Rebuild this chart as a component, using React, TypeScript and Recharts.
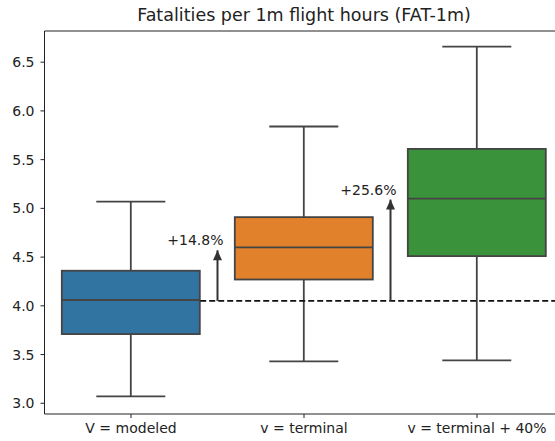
import { ComposedChart, Bar, XAxis, YAxis, ReferenceLine, ReferenceDot } from 'recharts';

// box statistics, one entry per category
const CATEGORIES = ['V = modeled', 'v = terminal', 'v = terminal + 40%'];
const WHISKER_LOW = [3.07, 3.43, 3.44];
const Q1 = [3.71, 4.27, 4.51];
const MEDIAN = [4.06, 4.6, 5.1];
const Q3 = [4.36, 4.91, 5.61];
const WHISKER_HIGH = [5.07, 5.84, 6.66];
const BOX_COLORS = ['#3274a1', '#e1812c', '#3a923a'];

const X_TICKS = [0, 1, 2];
const X_DOMAIN = [-0.5, 2.5];
const Y_TICKS = [3.0, 3.5, 4.0, 4.5, 5.0, 5.5, 6.0, 6.5];
const Y_DOMAIN = [2.89, 6.82];

// dashed reference at the modeled median, and the two increase arrows
const BASELINE = 4.05;
const BASELINE_START = 0.4;
const ARROW_POS = [0.5, 1.5];
const ARROW_TIP = [4.57, 5.09];
const ARROW_LABELS = ['+14.8%', '+25.6%'];

const LINE = '#444';
const TEXT = '#222';
const FONT = '"DejaVu Sans", sans-serif';

const data = CATEGORIES.map((name, i) => ({
  name,
  pos: i,
  lo: WHISKER_LOW[i],
  q1: Q1[i],
  med: MEDIAN[i],
  q3: Q3[i],
  hi: WHISKER_HIGH[i],
  color: BOX_COLORS[i],
}));

function BoxShape(props: any) {
  const { x, y, width, height, payload } = props;
  const top = Math.min(y, y + height);
  const h = Math.abs(height);
  const ppu = h / (payload.q3 - payload.q1);
  const toY = (v: number) => top + (payload.q3 - v) * ppu;
  const cx = x + width / 2;
  const cap = width / 4;
  const sw = 1.8;
  return (
    <g>
      <line x1={cx} x2={cx} y1={toY(payload.hi)} y2={top} stroke={LINE} strokeWidth={sw} />
      <line x1={cx} x2={cx} y1={top + h} y2={toY(payload.lo)} stroke={LINE} strokeWidth={sw} />
      <line x1={cx - cap} x2={cx + cap} y1={toY(payload.hi)} y2={toY(payload.hi)} stroke={LINE} strokeWidth={sw} />
      <line x1={cx - cap} x2={cx + cap} y1={toY(payload.lo)} y2={toY(payload.lo)} stroke={LINE} strokeWidth={sw} />
      <rect x={x} y={top} width={width} height={h} fill={payload.color} stroke={LINE} strokeWidth={sw} />
      <line x1={x} x2={x + width} y1={toY(payload.med)} y2={toY(payload.med)} stroke={LINE} strokeWidth={sw} />
    </g>
  );
}

function arrowHead(label: string) {
  return (props: any) => {
    const { cx, cy } = props;
    return (
      <g>
        <path d={`M${cx},${cy} L${cx - 4.5},${cy + 10} L${cx + 4.5},${cy + 10} Z`} fill="#333" />
        <text
          x={cx + 6}
          y={cy - 10}
          textAnchor="end"
          dominantBaseline="central"
          fontSize={14}
          fontFamily={FONT}
          fill={TEXT}
        >
          {label}
        </text>
      </g>
    );
  };
}

export default function App() {
  return (
    <div
      style={{
        position: 'absolute',
        left: 0,
        top: 0,
        width: 555,
        height: 441,
        overflow: 'hidden',
        background: '#fff',
        fontFamily: FONT,
      }}
    >
      <div
        style={{
          position: 'absolute',
          left: 44.5,
          width: 519,
          top: 6,
          textAlign: 'center',
          fontSize: 17.5,
          lineHeight: '18px',
          color: TEXT,
        }}
      >
        Fatalities per 1m flight hours (FAT-1m)
      </div>
      <ComposedChart
        width={570}
        height={441}
        data={data}
        margin={{ top: 31, right: 6.5, bottom: 0, left: 0 }}
        barCategoryGap="10%"
      >
        <XAxis
          dataKey="pos"
          type="number"
          domain={X_DOMAIN}
          ticks={X_TICKS}
          allowDataOverflow
          height={27}
          tickSize={4}
          tickMargin={5}
          interval={0}
          tickFormatter={(v: number) => CATEGORIES[v]}
          axisLine={{ stroke: '#222' }}
          tickLine={{ stroke: '#222' }}
          tick={{ fill: TEXT, fontSize: 14, fontFamily: FONT }}
        />
        <YAxis
          domain={Y_DOMAIN}
          ticks={Y_TICKS}
          allowDataOverflow
          width={44.5}
          tickSize={4}
          tickMargin={6}
          tickFormatter={(v: number) => v.toFixed(1)}
          axisLine={{ stroke: '#222' }}
          tickLine={{ stroke: '#222' }}
          tick={{ fill: TEXT, fontSize: 14, fontFamily: FONT }}
        />
        <ReferenceLine y={Y_DOMAIN[1]} stroke="#222" ifOverflow="visible" />
        <Bar
          dataKey={(d: any) => [d.q1, d.q3]}
          shape={<BoxShape />}
          isAnimationActive={false}
        />
        <ReferenceLine
          segment={[
            { x: BASELINE_START, y: BASELINE },
            { x: X_DOMAIN[1], y: BASELINE },
          ]}
          stroke="#111"
          strokeWidth={1.8}
          strokeDasharray="6 3"
          ifOverflow="visible"
        />
        {ARROW_POS.map((pos, i) => (
          <ReferenceLine
            key={`shaft-${i}`}
            segment={[
              { x: pos, y: BASELINE },
              { x: pos, y: ARROW_TIP[i] },
            ]}
            stroke="#333"
            strokeWidth={2}
          />
        ))}
        {ARROW_POS.map((pos, i) => (
          <ReferenceDot
            key={`head-${i}`}
            x={pos}
            y={ARROW_TIP[i]}
            r={0}
            shape={arrowHead(ARROW_LABELS[i])}
          />
        ))}
      </ComposedChart>
    </div>
  );
}
